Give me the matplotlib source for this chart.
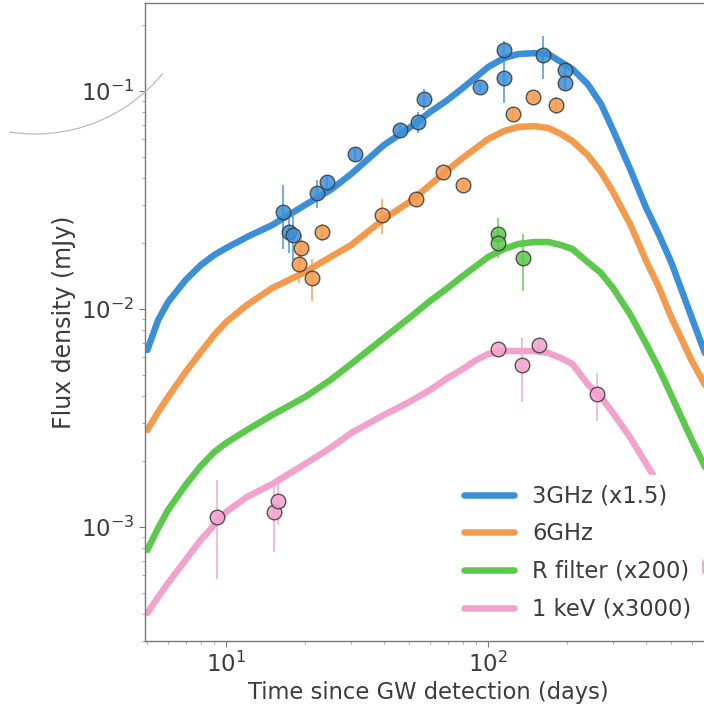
import matplotlib.pyplot as plt
import matplotlib.patches as mpatches

# Model light curves (days, mJy)
t_model = [5, 5.5, 6, 7, 8, 9, 10, 12, 15, 20, 25, 30, 40, 50, 60, 70, 80, 90, 100,
           115, 130, 150, 170, 190, 210, 240, 270, 300, 350, 400, 450, 500, 600, 700]
f3ghz_model = [0.006485, 0.008902, 0.010766, 0.013583, 0.015900, 0.017690, 0.019046, 0.021393,
               0.024289, 0.030000, 0.035143, 0.041620, 0.056520, 0.067654, 0.080129, 0.090937,
               0.103224, 0.115906, 0.128825, 0.141645, 0.147754, 0.149328, 0.147754, 0.135831,
               0.126134, 0.107673, 0.087192, 0.066241, 0.043411, 0.029370, 0.021845, 0.016427,
               0.009094, 0.005535]
f6ghz_model = [0.002786, 0.003369, 0.003947, 0.005140, 0.006350, 0.007596, 0.008718, 0.010430,
               0.012485, 0.014775, 0.017318, 0.019655, 0.025866, 0.030955, 0.037050, 0.043411,
               0.049287, 0.054790, 0.060231, 0.065541, 0.068377, 0.069090, 0.067654, 0.063504,
               0.058968, 0.050865, 0.042500, 0.034408, 0.024289, 0.016778, 0.012485, 0.009189,
               0.005774, 0.004118]
fR_model = [0.000784, 0.000989, 0.001197, 0.001558, 0.001905, 0.002208, 0.002428, 0.002786,
            0.003265, 0.003947, 0.004724, 0.005594, 0.007362, 0.009094, 0.010880, 0.012485,
            0.014170, 0.015746, 0.017318, 0.018845, 0.019867, 0.020292, 0.020292, 0.019655,
            0.018845, 0.016427, 0.014620, 0.012485, 0.009387, 0.006982, 0.005306, 0.004032,
            0.002506, 0.001714]
fX_model = [0.000403, 0.000477, 0.000553, 0.000706, 0.000872, 0.001021, 0.001172, 0.001373,
            0.001575, 0.001945, 0.002304, 0.002698, 0.003265, 0.003745, 0.004250, 0.004826,
            0.005306, 0.005834, 0.006216, 0.006418, 0.006418, 0.006418, 0.006282, 0.005958,
            0.005594, 0.004529, 0.003947, 0.003334, 0.002561, 0.001966, 0.001558, 0.001262,
            0.000827, 0.000571]

# Observations (scaled as in the legend)
t_3ghz = [16.5, 17.4, 18.0, 22.2, 24.3, 31.0, 46.1, 54.1, 57.0, 93.1, 115, 115, 162, 197, 197]
f_3ghz = [0.0279, 0.0225, 0.0218, 0.0340, 0.0383, 0.0514, 0.0662, 0.0721, 0.0919, 0.104, 0.154, 0.115, 0.146, 0.125, 0.109]
e_3ghz = [0.009, 0.0045, 0.005, 0.005, 0.003, 0.004, 0.004, 0.008, 0.010, 0.005, 0.015, 0.027, 0.033, 0.008, 0.008]

t_6ghz = [19.3, 19.0, 21.3, 23.2, 39.4, 53.1, 67.3, 80.4, 125, 149, 182]
f_6ghz = [0.0190, 0.0161, 0.0139, 0.0225, 0.0270, 0.0320, 0.0425, 0.0371, 0.0785, 0.0938, 0.0863]
e_6ghz = [0.003, 0.003, 0.003, 0.002, 0.005, 0.002, 0.002, 0.002, 0.006, 0.003, 0.008]

t_R = [109, 109, 136]
f_R = [0.0221, 0.0201, 0.0171]
e_R = [0.004, 0.003, 0.005]

t_X = [9.25, 15.2, 15.8, 109, 135, 157, 260]
f_X = [0.00111, 0.00117, 0.00132, 0.00656, 0.00553, 0.00684, 0.00407]
e_X = [0.00053, 0.0004, 0.0003, 0.0003, 0.0018, 0.0005, 0.001]

labels = ['3GHz (x1.5)', '6GHz', 'R filter (x200)', '1 keV (x3000)']
colors = ['#3b8fd8', '#f39a4c', '#5cc84c', '#f2a3cd']

fig = plt.figure(figsize=(7.04, 7.08), dpi=100)
fig.set_facecolor('white')
# the original axes runs past the right edge of the cropped picture
ax = fig.add_axes([145 / 704, 67 / 708, 567 / 704, 638 / 708])

models = [f3ghz_model, f6ghz_model, fR_model, fX_model]
obs = [(t_3ghz, f_3ghz, e_3ghz), (t_6ghz, f_6ghz, e_6ghz), (t_R, f_R, e_R), (t_X, f_X, e_X)]

for model, (t, f, e), c, lab in zip(models, obs, colors, labels):
    ax.plot(t_model, model, color=c, lw=4.7, label=lab, zorder=2,
            solid_capstyle='round', solid_joinstyle='round')
    ax.errorbar(t, f, yerr=e, fmt='o', color=c, ms=10.5, mec='#3a3a3a', mew=1.0,
                elinewidth=1.2, alpha=0.85, zorder=3)

ax.set_xscale('log')
ax.set_yscale('log')
ax.set_xlim(4.9, 716)
ax.set_ylim(3.0e-4, 0.2535)

for side in ['left', 'bottom', 'top', 'right']:
    ax.spines[side].set_color('#777777')
    ax.spines[side].set_linewidth(1.0)

ax.tick_params(which='major', direction='out', length=4, color='#777777', labelsize=16.5, labelcolor='#3c3c3c')
ax.tick_params(which='minor', direction='out', length=2.5, color='#999999')

ax.set_xlabel('Time since GW detection (days)', fontsize=16.3, color='#3c3c3c', labelpad=3)
ax.set_ylabel('Flux density (mJy)', fontsize=17, color='#3c3c3c', labelpad=4)

leg = ax.legend(loc='lower right', fontsize=16.3, frameon=True, framealpha=1.0, edgecolor='white',
                handlelength=2.2, handletextpad=0.8, labelspacing=0.65)
for txt in leg.get_texts():
    txt.set_color('#3c3c3c')

# faint scan artefact in the upper-left corner
arc = mpatches.Arc((35 / 704, 739 / 708), 330 / 704, 330 / 708, theta1=-99, theta2=-39,
                   transform=fig.transFigure, color='#bbbbbb', lw=0.9)
fig.patches.append(arc)

fig.savefig('out.png', dpi=100)
